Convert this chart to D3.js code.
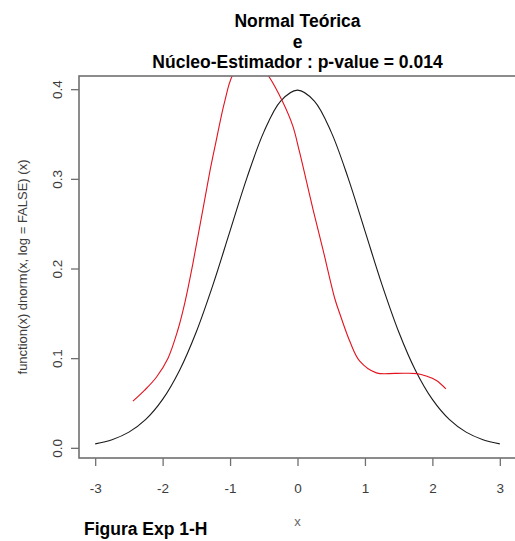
<!DOCTYPE html>
<html>
<head>
<meta charset="utf-8">
<script src="https://cdn.jsdelivr.net/npm/d3@7"></script>
<style>
  html, body { margin: 0; padding: 0; background: #fff; }
  svg { display: block; font-family: "Liberation Sans", Arial, sans-serif; }
</style>
</head>
<body>
<svg id="chart" width="515" height="541"></svg>
<script>
// ---- data ----
const titleLines = ["Normal Teórica", "e", "Núcleo-Estimador : p-value = 0.014"];
const xLabel = "x";
const yLabel = "function(x) dnorm(x, log = FALSE) (x)";
const figLabel = "Figura Exp 1-H";
const xTicks = [-3, -2, -1, 0, 1, 2, 3];
const xTickLabels = ["-3", "-2", "-1", "0", "1", "2", "3"];
const yTicks = [0.0, 0.1, 0.2, 0.3, 0.4];
const yTickLabels = ["0.0", "0.1", "0.2", "0.3", "0.4"];

// theoretical normal curve (black)
const normalX = [-3, -2.75, -2.5, -2.25, -2, -1.75, -1.5, -1.25, -1, -0.75, -0.5, -0.25, 0,
                 0.25, 0.5, 0.75, 1, 1.25, 1.5, 1.75, 2, 2.25, 2.5, 2.75, 3];
const normalY = [0.0044, 0.0091, 0.0175, 0.0317, 0.0540, 0.0863, 0.1295, 0.1826, 0.2420, 0.3011, 0.3521, 0.3867, 0.3989,
                 0.3867, 0.3521, 0.3011, 0.2420, 0.1826, 0.1295, 0.0863, 0.0540, 0.0317, 0.0175, 0.0091, 0.0044];

// kernel estimate curve (red)
const kernelX = [-2.44, -2.27, -2.09, -1.92, -1.78, -1.67, -1.55, -1.30, -1.21, -1.08, -0.96, -0.70, -0.44,
                 -0.22, -0.07, 0.03, 0.23, 0.375, 0.555, 0.63, 0.78, 0.92, 1.17, 1.45, 1.77, 1.91, 2.06, 2.20];
const kernelY = [0.052, 0.064, 0.079, 0.100, 0.130, 0.162, 0.206, 0.308, 0.341, 0.386, 0.416, 0.440, 0.416,
                 0.386, 0.359, 0.330, 0.266, 0.222, 0.166, 0.149, 0.118, 0.097, 0.0836, 0.083, 0.0828, 0.080, 0.075, 0.0657];

// ---- layout ----
const svg = d3.select("#chart");
const L = 79, R = 516, T = 76, B = 458;

const x = d3.scaleLinear().domain([-3.24, 3.24]).range([L, R]);
const y = d3.scaleLinear().domain([-0.01135, 0.4147]).range([B, T]);

svg.append("defs").append("clipPath").attr("id", "plotclip")
  .append("rect").attr("x", L).attr("y", T).attr("width", R - L).attr("height", B - T);

// curves
const lineGen = d3.line().x(d => x(d[0])).y(d => y(d[1])).curve(d3.curveCatmullRom.alpha(0.5));
const g = svg.append("g").attr("clip-path", "url(#plotclip)");
g.append("path")
  .datum(normalX.map((v, i) => [v, normalY[i]]))
  .attr("d", lineGen).attr("fill", "none").attr("stroke", "#1a1a1a").attr("stroke-width", 1.1);
g.append("path")
  .datum(kernelX.map((v, i) => [v, kernelY[i]]))
  .attr("d", lineGen).attr("fill", "none").attr("stroke", "#e2131f").attr("stroke-width", 1.1);

// axes
const axisColor = "#707070";
const textColor = "#3c3c3c";
const xAxis = svg.append("g").attr("transform", `translate(0,${B})`)
  .call(d3.axisBottom(x).tickValues(xTicks).tickSize(8).tickPadding(17)
    .tickFormat((d, i) => xTickLabels[i]));
const yAxis = svg.append("g").attr("transform", `translate(${L},0)`)
  .call(d3.axisLeft(y).tickValues(yTicks).tickSize(8).tickFormat((d, i) => yTickLabels[i]));
[xAxis, yAxis].forEach(a => {
  a.select(".domain").remove();
  a.selectAll("line").attr("stroke", axisColor).attr("stroke-width", 1.3);
  a.selectAll("text").attr("fill", textColor).attr("font-size", 13.5)
    .attr("font-family", "Liberation Sans, Arial, sans-serif");
});
yAxis.selectAll(".tick text")
  .attr("x", 0).attr("y", 0).attr("dy", "0.35em")
  .attr("text-anchor", "middle")
  .attr("transform", `translate(${57 - L},0) rotate(-90)`);

// box (left, top, bottom; right edge off-canvas)
svg.append("rect").attr("x", L).attr("y", T).attr("width", R - L).attr("height", B - T)
  .attr("fill", "none").attr("stroke", axisColor).attr("stroke-width", 1.6);

// titles
svg.append("g").selectAll("text").data(titleLines).join("text")
  .attr("x", (L + R) / 2).attr("y", (d, i) => 27 + i * 20.5)
  .attr("text-anchor", "middle").attr("font-weight", "bold").attr("font-size", 17.5)
  .attr("fill", "#000").text(d => d);

// axis labels
svg.append("text").attr("x", (L + R) / 2).attr("y", 526)
  .attr("text-anchor", "middle").attr("font-size", 13).attr("fill", "#666").text(xLabel);
svg.append("text").attr("transform", `translate(27,${(T + B) / 2}) rotate(-90)`)
  .attr("text-anchor", "middle").attr("font-size", 13).attr("fill", textColor).text(yLabel);

// figure label
svg.append("text").attr("x", 84).attr("y", 535)
  .attr("font-weight", "bold").attr("font-size", 17.5).attr("fill", "#000").text(figLabel);
</script>
</body>
</html>
